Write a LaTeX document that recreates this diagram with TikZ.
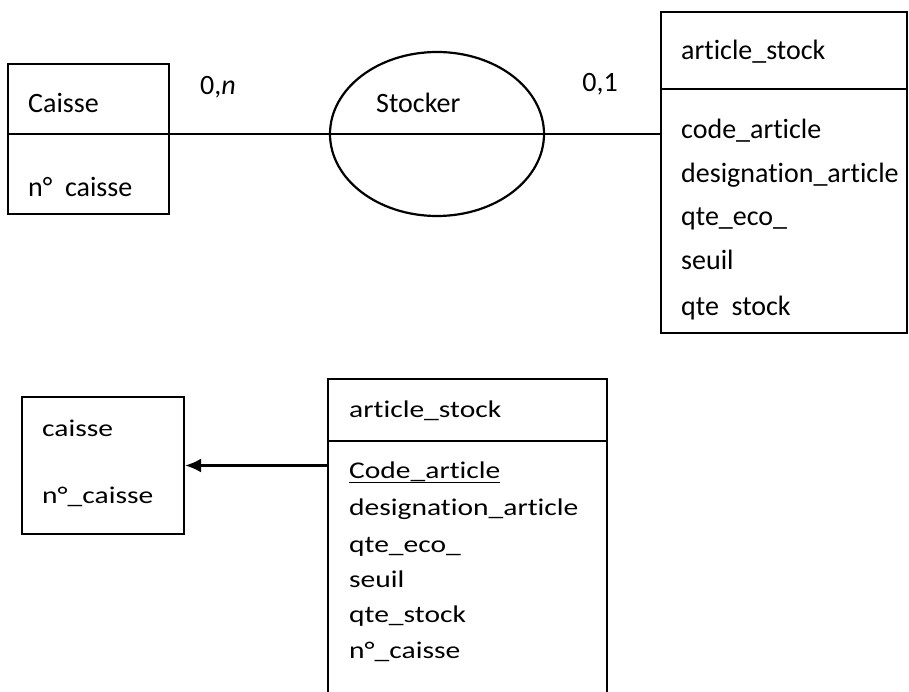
\documentclass[tikz,border=0pt]{standalone}
\usepackage{fontspec}
\setmainfont[Ligatures=NoCommon]{Carlito}
\newfontfamily\widefont[FakeStretch=1.23,Ligatures=NoCommon]{Carlito}
\usetikzlibrary{shapes.geometric,arrows.meta}
\tikzset{
  box/.style={draw, line width=2.2pt, rectangle, inner sep=0pt},
  rel/.style={draw, line width=2.2pt, ellipse, inner sep=0pt},
  wire/.style={line width=2.2pt},
  txt/.style={anchor=base west, inner sep=0pt, font=\fontsize{28}{32}\selectfont},
  txtb/.style={anchor=base west, inner sep=0pt, font=\widefont\fontsize{24}{28}\selectfont},
  card/.style={anchor=base, inner sep=0pt, font=\fontsize{28}{32}\selectfont},
}
\begin{document}
\begin{tikzpicture}[x=1pt,y=1pt]
\useasboundingbox (0,0) rectangle (909,-692);
\clip (0,0) rectangle (909,-692);
\fill[white] (0,0) rectangle (909,-692);

% Conceptual model: entity Caisse -- relation Stocker -- entity article_stock
\node[box, minimum width=161pt, minimum height=150pt] (caisse) at (88.5,-139) {};
\coordinate (caisseL) at (8,-134);
\draw[wire] (caisseL) -- (caisseL -| caisse.east);
\node[txt] (caisseT) at (28,-113) {Caisse};
\node[txt] (caisseA) at (28,-197) {n°\ \ caisse};

\node[rel, minimum width=214pt, minimum height=164pt] (stocker) at (437,-134) {};
\node[txt] (stockerT) at (376,-113) {Stocker};

\node[box, minimum width=246pt, minimum height=321pt] (art) at (784,-172.5) {};
\coordinate (artL) at (661,-89);
\draw[wire] (artL) -- (artL -| art.east);
\node[txt] (artT) at (681,-60) {article\_stock};
\node[txt] (artA1) at (681,-139) {code\_article};
\node[txt] (artA2) at (681,-183) {designation\_article};
\node[txt] (artA3) at (681,-226) {qte\_eco\_};
\node[txt] (artA4) at (681,-270) {seuil};
\node[txt] (artA5) at (681,-315) {qte\ \ stock};

\draw[wire] (caisse.east |- stocker.center) -- (art.west |- stocker.center);
\node[card] (cardN) at (218,-95) {0,\textit{n}};
\node[card] (card1) at (600,-92) {0,1};

% Logical model: table article_stock refers to table caisse
\node[box, minimum width=162pt, minimum height=137pt] (tcaisse) at (103,-465.5) {};
\node[txtb] (tcaisseT) at (42,-436) {caisse};
\node[txtb] (tcaisseA) at (42,-503) {n°\_caisse};

\node[box, minimum width=279pt, minimum height=330pt] (tart) at (467.5,-544) {};
\coordinate (tartL) at (328,-441);
\draw[wire] (tartL) -- (tartL -| tart.east);
\node[txtb] (tartT) at (349,-417) {article\_stock};
\node[txtb] (tartA1) at (349,-478) {\underline{Code\_article}};
\node[txtb] (tartA2) at (349,-515) {designation\_article};
\node[txtb] (tartA3) at (349,-552) {qte\_eco\_};
\node[txtb] (tartA4) at (349,-587) {seuil};
\node[txtb] (tartA5) at (349,-622) {qte\_stock};
\node[txtb] (tartA6) at (349,-658) {n°\_caisse};

\draw[wire, -{Latex[length=16pt, width=14pt]}] (tart.west |- tcaisse.east) -- (tcaisse.east);
\end{tikzpicture}
\end{document}
